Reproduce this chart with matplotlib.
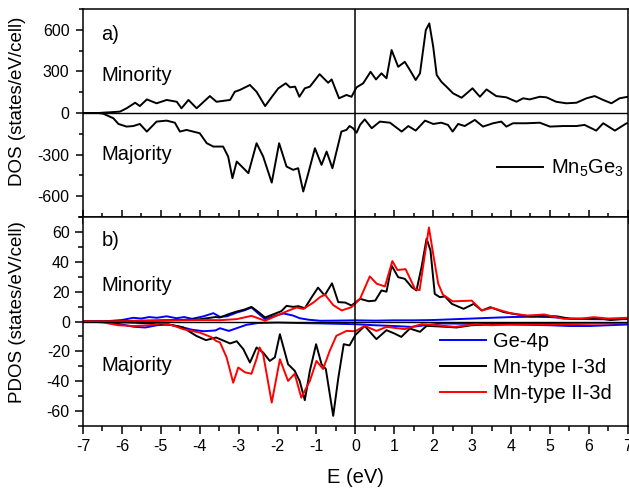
import numpy as np
import matplotlib
matplotlib.use('Agg')
import matplotlib.pyplot as plt
from matplotlib.ticker import MultipleLocator

plt.rcParams['font.family'] = ['Liberation Sans', 'DejaVu Sans']
plt.rcParams['axes.linewidth'] = 1.1
plt.rcParams['axes.unicode_minus'] = False

# ---- total DOS of Mn5Ge3 (panel a) ----
e_tot_min = [-7.0, -6.6, -6.45, -6.31, -6.05, -5.88, -5.66, -5.54, -5.36, -5.11, -4.85,
             -4.59, -4.47, -4.29, -4.08, -3.74, -3.57, -3.22, -3.10, -2.97, -2.71, -2.54,
             -2.32, -2.11, -1.98, -1.79, -1.68, -1.55, -1.44, -1.30, -1.17, -0.92, -0.70,
             -0.61, -0.42, -0.23, -0.10, 0.03, 0.20, 0.39, 0.53, 0.67, 0.80, 0.93, 1.10,
             1.27, 1.40, 1.55, 1.66, 1.81, 1.90, 2.00, 2.09, 2.21, 2.34, 2.51, 2.73, 3.01,
             3.20, 3.37, 3.62, 3.88, 4.14, 4.31, 4.48, 4.74, 4.91, 5.16, 5.42, 5.68, 5.94,
             6.15, 6.37, 6.58, 6.79, 7.0]
dos_min = [0, 0, 3, 5, 10, 34, 74, 50, 98, 70, 94,
           81, 34, 94, 34, 122, 81, 94, 153, 166, 202, 153,
           50, 130, 178, 214, 185, 190, 117, 178, 190, 280, 218,
           242, 106, 130, 117, 185, 214, 297, 242, 286, 250, 454, 333,
           369, 310, 238, 286, 598, 646, 478, 274, 225, 190, 142, 110, 178,
           117, 170, 122, 113, 81, 106, 98, 117, 113, 81, 70, 74, 106,
           122, 94, 70, 106, 117]

e_tot_maj = [-7.0, -6.6, -6.48, -6.22, -6.09, -5.88, -5.71, -5.54, -5.36, -5.11, -4.85,
             -4.64, -4.51, -4.34, -4.17, -4.0, -3.82, -3.65, -3.40, -3.27, -3.16, -3.05,
             -2.92, -2.75, -2.54, -2.37, -2.15, -1.96, -1.77, -1.60, -1.47, -1.34, -1.21,
             -1.04, -0.87, -0.74, -0.59, -0.36, -0.23, -0.15, -0.06, 0.03, 0.12, 0.24,
             0.42, 0.63, 0.89, 1.19, 1.36, 1.55, 1.79, 2.00, 2.21, 2.38, 2.50, 2.64, 2.81,
             3.07, 3.28, 3.54, 3.75, 3.88, 4.05, 4.40, 4.74, 5.0, 5.34, 5.68, 5.89, 6.19,
             6.37, 6.67, 6.97, 7.0]
dos_maj = [0, 0, -5, -38, -79, -98, -94, -79, -134, -62, -55,
           -70, -134, -122, -134, -146, -218, -242, -242, -314, -470, -350,
           -386, -434, -218, -314, -502, -218, -386, -410, -398, -566, -434,
           -254, -374, -278, -398, -134, -122, -94, -110, -142, -86, -46,
           -110, -62, -70, -134, -94, -127, -55, -79, -70, -86, -134, -79, -94,
           -50, -98, -74, -62, -98, -74, -74, -70, -98, -94, -94, -86, -127,
           -74, -127, -74, -74]

# ---- projected DOS (panel b) ----
e_ge_min = [-7.0, -6.4, -6.0, -5.71, -5.5, -5.3, -5.1, -4.85, -4.6, -4.4, -4.2, -3.9,
            -3.65, -3.48, -3.3, -3.05, -2.85, -2.67, -2.5, -2.32, -2.1, -1.85, -1.6,
            -1.43, -1.2, -0.9, -0.5, 0.0, 0.5, 1.0, 1.5, 2.0, 2.5, 3.0, 3.5, 4.0, 4.5,
            5.0, 5.5, 6.0, 6.5, 7.0]
ge_min = [0, 0.2, 1.0, 2.5, 2.0, 3.0, 2.5, 3.5, 2.2, 3.0, 1.8, 3.5,
          5.6, 3.1, 3.5, 6.0, 7.5, 9.4, 5.5, 1.6, 3.5, 5.4, 4.0,
          2.2, 1.2, 0.5, 0.6, 0.8, 0.6, 0.8, 0.8, 1.0, 1.5, 2.0, 2.5, 3.0, 3.2,
          3.0, 2.0, 1.6, 1.5, 1.6]

e_ge_maj = [-7.0, -6.4, -6.0, -5.7, -5.4, -5.1, -4.8, -4.5, -4.2, -3.9, -3.6, -3.48,
            -3.25, -3.0, -2.8, -2.5, -2.0, -1.5, -1.0, -0.5, 0.0, 0.5, 1.0, 1.44, 1.8,
            2.2, 3.0, 4.0, 5.0, 5.5, 6.0, 6.5, 7.0]
ge_maj = [0, -0.5, -2.0, -3.5, -4.0, -2.5, -2.0, -3.5, -5.5, -6.5, -6.0, -4.5,
          -6.3, -4.0, -2.2, -1.0, -0.7, -1.0, -1.2, -1.5, -1.8, -2.5, -3.0, -3.6, -2.5,
          -1.3, -1.5, -2.0, -2.5, -3.0, -3.0, -2.5, -2.0]

e_mn1_min = [-7.0, -6.0, -5.0, -4.5, -4.0, -3.6, -3.48, -3.25, -3.05, -2.85, -2.67, -2.5,
             -2.32, -2.1, -1.9, -1.77, -1.6, -1.47, -1.3, -1.13, -0.96, -0.79, -0.6,
             -0.44, -0.26, -0.1, 0.12, 0.34, 0.51, 0.67, 0.8, 0.93, 1.10, 1.27, 1.45,
             1.57, 1.70, 1.83, 1.93, 2.04, 2.17, 2.3, 2.48, 2.78, 3.04, 3.25, 3.47, 3.81,
             4.16, 4.50, 4.85, 5.19, 5.53, 5.9, 6.2, 6.56, 7.0]
mn1_min = [0, 0.3, 0.8, 1.0, 1.5, 3.0, 2.7, 5.0, 6.7, 8.0, 9.8, 6.5,
           2.7, 4.9, 7.0, 10.5, 9.8, 10.3, 8.9, 16.0, 22.7, 17.5, 25.6,
           13.0, 12.7, 10.7, 15.2, 13.6, 14.0, 20.8, 20.0, 37.5, 29.7, 28.6, 23.0,
           20.8, 36.4, 55.5, 47.6, 18.5, 16.3, 16.8, 11.8, 8.5, 11.8, 7.4, 9.6, 6.3,
           4.7, 3.4, 4.0, 3.4, 1.8, 1.8, 2.4, 1.0, 2.0]

e_mn1_maj = [-7.0, -6.0, -5.5, -5.0, -4.7, -4.43, -4.25, -4.09, -3.84, -3.58, -3.48, -3.22,
             -3.05, -2.88, -2.71, -2.54, -2.37, -2.20, -2.07, -1.94, -1.73, -1.56, -1.43,
             -1.30, -1.17, -1.01, -0.87, -0.76, -0.57, -0.44, -0.30, -0.15, 0.0, 0.24,
             0.54, 0.80, 1.0, 1.18, 1.40, 1.66, 1.83, 2.3, 2.6, 2.98, 3.5, 4.0, 5.0, 6.0, 7.0]
mn1_maj = [0, -0.5, -1.0, -1.5, -2.5, -4.0, -7.0, -9.6, -12.5, -10.7, -11.8, -14.7,
           -13.2, -18.5, -27.5, -17.4, -20.8, -26.4, -24.0, -8.5, -28.6, -33.0, -40.0,
           -52.7, -33.0, -15.2, -28.6, -31.8, -63.2, -38.0, -15.2, -16.0, -9.0, -3.0,
           -11.8, -5.8, -8.0, -10.3, -4.7, -6.9, -2.9, -3.5, -4.0, -2.5, -2.0, -1.5, -1.5, -1.0, -1.0]

e_mn2_min = [-7.0, -6.0, -5.0, -4.5, -4.0, -3.48, -3.05, -2.67, -2.32, -1.94, -1.7, -1.51,
             -1.34, -1.08, -0.9, -0.78, -0.57, -0.35, -0.1, 0.12, 0.37, 0.55, 0.76, 0.95,
             1.08, 1.29, 1.53, 1.65, 1.89, 2.02, 2.13, 2.25, 2.5, 2.99, 3.25, 3.51, 3.98,
             4.41, 4.85, 5.36, 5.8, 6.13, 6.5, 7.0]
mn2_min = [0, 0.2, 0.5, 0.8, 1.0, 0.9, 1.6, 3.8, 0.5, 4.9, 7.5, 9.4,
           8.4, 12.7, 16.5, 18.0, 11.0, 7.4, 9.6, 15.2, 30.2, 25.3, 23.5, 40.5,
           34.5, 35.1, 21.9, 21.0, 63.0, 42.0, 25.3, 18.0, 13.5, 14.0, 7.4, 9.2, 5.6,
           4.0, 4.7, 1.8, 2.0, 2.9, 2.0, 2.5]

e_mn2_maj = [-7.0, -6.5, -6.1, -5.7, -5.3, -5.0, -4.7, -4.43, -4.0, -3.7, -3.58, -3.48,
             -3.31, -3.14, -3.01, -2.84, -2.67, -2.54, -2.46, -2.37, -2.15, -1.94, -1.73,
             -1.56, -1.39, -1.17, -1.00, -0.83, -0.66, -0.49, -0.23, 0.0, 0.24, 0.54,
             0.80, 1.27, 1.7, 2.1, 2.56, 3.08, 3.5, 4.0, 5.0, 6.0, 7.0]
mn2_maj = [0, -0.5, -2.5, -3.0, -2.5, -1.2, -2.5, -5.1, -7.4, -10.5, -13.0, -14.0,
           -24.0, -41.0, -30.8, -34.0, -35.0, -25.0, -17.4, -22.0, -54.3, -25.3, -39.8,
           -35.0, -51.0, -39.8, -26.4, -31.8, -19.7, -9.6, -6.3, -6.5, -2.9, -6.3,
           -3.6, -5.1, -1.8, -2.5, -3.6, -1.8, -2.5, -2.0, -2.0, -1.5, -1.0]

fs_txt = 14.5
fs_tick = 11.5
lw = 1.4

fig = plt.figure(figsize=(6.29, 4.88), dpi=100)
ax1 = fig.add_axes([0.132, 0.5553, 0.866, 0.4263])
ax2 = fig.add_axes([0.132, 0.127, 0.866, 0.4283])

# panel a
ax1.plot(e_tot_min, dos_min, color='black', lw=lw, label=r'Mn$_\mathregular{5}$Ge$_\mathregular{3}$')
ax1.plot(e_tot_maj, dos_maj, color='black', lw=lw)
ax1.axhline(0, color='black', lw=1.0)
ax1.axvline(0, color='black', lw=1.1)
ax1.set_xlim(-7, 7)
ax1.set_ylim(-750, 750)
ax1.set_yticks([-600, -300, 0, 300, 600])
ax1.yaxis.set_minor_locator(MultipleLocator(150))
ax1.xaxis.set_major_locator(MultipleLocator(1))
ax1.xaxis.set_minor_locator(MultipleLocator(0.5))
ax1.tick_params(axis='x', which='both', direction='inout', labelbottom=False)
ax1.tick_params(axis='x', which='major', length=10.5, width=1.1)
ax1.tick_params(axis='x', which='minor', length=6, width=1.1)
ax1.tick_params(axis='y', which='major', length=4.8, width=1.1, labelsize=fs_tick, pad=5)
ax1.tick_params(axis='y', which='minor', length=2.8, width=1.1)
ax1.set_ylabel('DOS (states/eV/cell)', fontsize=13.5)
ax1.yaxis.set_label_coords(-0.105, 0.555)
ax1.text(0.034, 0.851, 'a)', transform=ax1.transAxes, fontsize=fs_txt)
ax1.text(0.034, 0.655, 'Minority', transform=ax1.transAxes, fontsize=fs_txt)
ax1.text(0.034, 0.274, 'Majority', transform=ax1.transAxes, fontsize=fs_txt)
ax1.legend(loc='center left', bbox_to_anchor=(0.7596, 0.234), frameon=False,
           fontsize=fs_txt, borderpad=0, borderaxespad=0, handlelength=2.3,
           handletextpad=0.37)

# panel b
ax2.plot(e_ge_min, ge_min, color='#0000ff', lw=lw, label='Ge-4p')
ax2.plot(e_ge_maj, ge_maj, color='#0000ff', lw=lw)
ax2.plot(e_mn1_min, mn1_min, color='black', lw=lw, label='Mn-type I-3d')
ax2.plot(e_mn1_maj, mn1_maj, color='black', lw=lw)
ax2.plot(e_mn2_min, mn2_min, color='#ff0000', lw=lw, label='Mn-type II-3d')
ax2.plot(e_mn2_maj, mn2_maj, color='#ff0000', lw=lw)
ax2.axhline(0, color='black', lw=1.0)
ax2.axvline(0, color='black', lw=1.1)
ax2.set_xlim(-7, 7)
ax2.set_ylim(-70, 70)
ax2.yaxis.set_major_locator(MultipleLocator(20))
ax2.yaxis.set_minor_locator(MultipleLocator(10))
ax2.xaxis.set_major_locator(MultipleLocator(1))
ax2.xaxis.set_minor_locator(MultipleLocator(0.5))
ax2.tick_params(axis='both', which='major', length=5.5, width=1.1, labelsize=fs_tick, pad=4)
ax2.tick_params(axis='both', which='minor', length=3.3, width=1.1)
ax2.set_xlabel('E (eV)', fontsize=fs_txt, labelpad=10)
ax2.set_ylabel('PDOS (states/eV/cell)', fontsize=13.5)
ax2.yaxis.set_label_coords(-0.105, 0.545)
ax2.text(0.034, 0.860, 'b)', transform=ax2.transAxes, fontsize=fs_txt)
ax2.text(0.034, 0.646, 'Minority', transform=ax2.transAxes, fontsize=fs_txt)
ax2.text(0.034, 0.263, 'Majority', transform=ax2.transAxes, fontsize=fs_txt)
ax2.legend(loc='center left', bbox_to_anchor=(0.655, 0.280), frameon=False,
           fontsize=fs_txt, borderpad=0, borderaxespad=0, handlelength=2.3,
           handletextpad=0.33, labelspacing=0.33)

fig.savefig('out.png', dpi=100)
